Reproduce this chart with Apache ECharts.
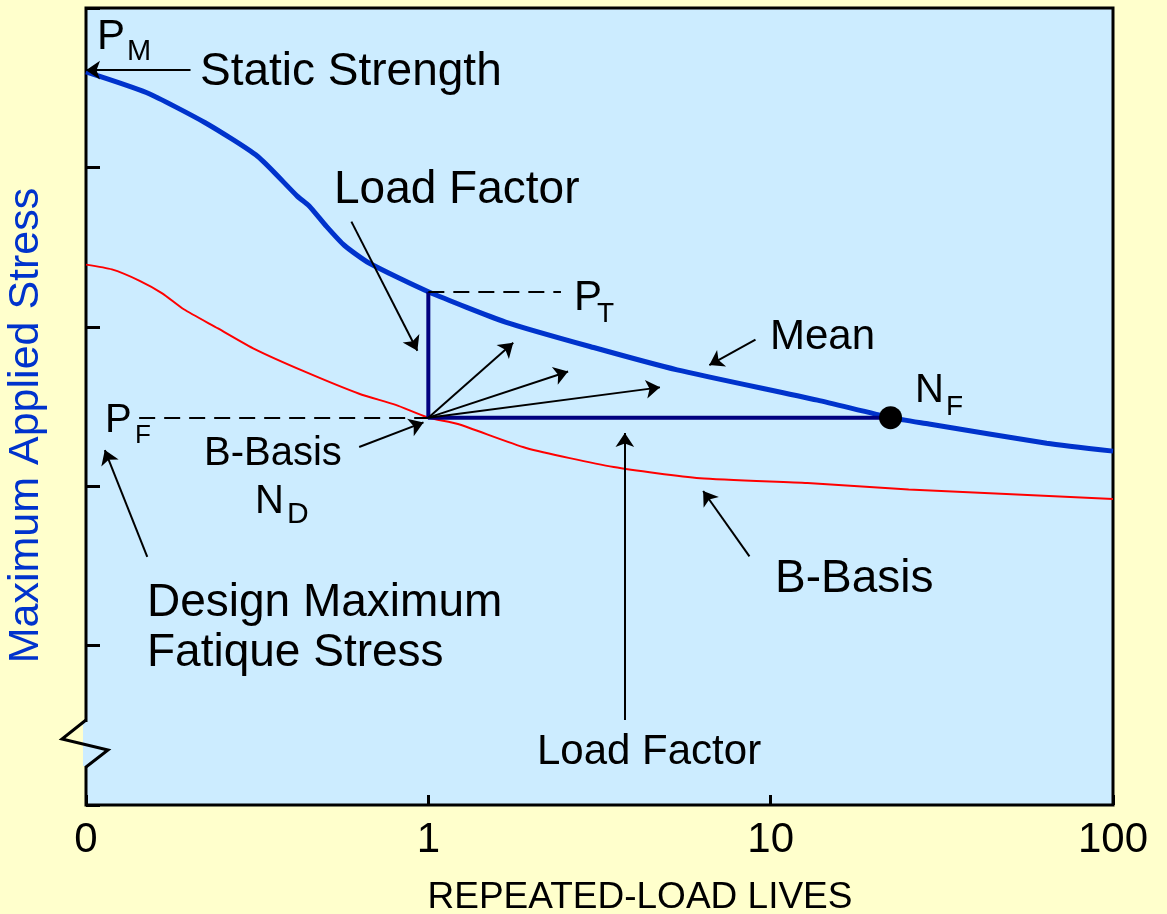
<!DOCTYPE html>
<html>
<head>
<meta charset="utf-8">
<title>Repeated-load lives</title>
<script src="https://cdn.jsdelivr.net/npm/echarts@6/dist/echarts.min.js"></script>
<style>
  html, body { margin: 0; padding: 0; background: #FFFFCC; }
  #chart { width: 1167px; height: 914px; }
</style>
</head>
<body>
<div id="chart"></div>
<script>
// x tick labels (log axis: 0.1, 1, 10, 100)
const xTickLabels = ['0', '1', '10', '100'];

// mean S-N curve
const meanLives = [0.1, 0.15, 0.223, 0.317, 0.414, 0.448, 0.504, 0.569, 0.671, 1, 1.68, 3.04, 5.33, 13.7, 22.4, 29, 64, 100];
const meanStress = [4.60, 4.47, 4.28, 4.07, 3.82, 3.76, 3.63, 3.51, 3.40, 3.22, 3.03, 2.87, 2.73, 2.54, 2.43, 2.39, 2.27, 2.22];

// B-basis curve
const bLives = [0.1, 0.119, 0.143, 0.167, 0.193, 0.243, 0.311, 0.434, 0.628, 0.803, 1, 1.22, 1.93, 3.48, 6.22, 12.8, 25.3, 100];
const bStress = [3.39, 3.36, 3.29, 3.21, 3.11, 2.99, 2.86, 2.72, 2.58, 2.51, 2.43, 2.39, 2.24, 2.12, 2.05, 2.02, 1.98, 1.92];

// design point and test point
const designLife = 1;      // N_D
const designStress = 2.43; // P_F
const testStress = 3.22;   // P_T
const failLife = 22.4;     // N_F

// annotation arrows [from, to]
const arrows = [
  [[0.202, 4.61], [0.1, 4.61]],     // static strength
  [[0.596, 3.66], [0.929, 2.85]],   // load factor (top)
  [[1, 2.43], [1.77, 2.90]],
  [[1, 2.43], [2.56, 2.72]],
  [[1, 2.43], [4.75, 2.62]],
  [[0.628, 2.246], [0.968, 2.40]],  // B-basis N_D
  [[0.151, 1.556], [0.1135, 2.227]],// design max fatigue stress
  [[3.75, 0.533], [3.75, 2.334]],   // load factor (bottom)
  [[9.03, 2.92], [6.62, 2.76]],     // mean
  [[8.67, 1.56], [6.35, 1.97]]      // B-basis
];
const dashes = [
  [[0.143, designStress], [designLife, designStress]],
  [[designLife, testStress], [2.44, testStress]]
];

const FONT = '"Liberation Sans", Arial, sans-serif';
function label(text, x, y, size, color) {
  return {
    type: 'text', x: x, y: y, z: 100,
    style: { text: text, font: size + 'px ' + FONT, fill: color || '#000', align: 'left', verticalAlign: 'middle' }
  };
}

const chart = echarts.init(document.getElementById('chart'));

const option = {
  animation: false,
  backgroundColor: '#FFFFCC',
  grid: {
    left: 86, right: 54, top: 8, bottom: 109,
    outerBoundsMode: 'none', containLabel: false,
    show: true, backgroundColor: '#CCECFF', borderColor: '#000', borderWidth: 3
  },
  xAxis: {
    type: 'log', logBase: 10, min: 0.1, max: 100,
    name: 'REPEATED-LOAD LIVES', nameLocation: 'middle', nameGap: 74,
    nameTextStyle: { color: '#000', fontSize: 37, fontFamily: FONT, padding: [0, 0, 0, 81] },
    axisLine: { show: false },
    splitLine: { show: false },
    axisTick: { inside: true, length: 10, lineStyle: { color: '#000', width: 3 } },
    axisLabel: {
      color: '#000', fontSize: 42, fontFamily: FONT, margin: 14,
      formatter: function (v) { return xTickLabels[Math.round(Math.log10(v)) + 1]; }
    }
  },
  yAxis: {
    type: 'value', min: 0, max: 5, interval: 1,
    name: 'Maximum Applied Stress', nameLocation: 'middle', nameGap: 38,
    nameTextStyle: { color: '#0033CC', fontSize: 43, fontFamily: FONT, padding: [0, 38, 0, 0] },
    axisLine: { show: false },
    splitLine: { show: false },
    axisLabel: { show: false },
    axisTick: { inside: true, length: 14, lineStyle: { color: '#000', width: 3 } }
  },
  series: [
    {
      name: 'B-Basis', type: 'line', showSymbol: false, smooth: 0.2,
      data: bLives.map((n, i) => [n, bStress[i]]),
      lineStyle: { color: '#FF0000', width: 2 }, z: 2
    },
    {
      name: 'Mean', type: 'line', showSymbol: false, smooth: 0.2,
      data: meanLives.map((n, i) => [n, meanStress[i]]),
      lineStyle: { color: '#0033CC', width: 5 }, z: 3
    },
    {
      name: 'Load Factor', type: 'line', showSymbol: false,
      data: [[designLife, testStress], [designLife, designStress], [failLife, designStress]],
      lineStyle: { color: '#000080', width: 4 }, z: 4
    },
    {
      type: 'lines', coordinateSystem: 'cartesian2d',
      data: dashes.map(c => ({ coords: c })),
      lineStyle: { color: '#000', width: 2, type: [16, 9], opacity: 1 }, z: 5
    },
    {
      type: 'lines', coordinateSystem: 'cartesian2d',
      symbol: ['none', 'arrow'], symbolSize: 14,
      data: arrows.map(c => ({ coords: c })),
      lineStyle: { color: '#000', width: 2, opacity: 1 }, z: 6
    },
    {
      type: 'scatter', symbol: 'circle', symbolSize: 23,
      data: [[failLife, designStress]],
      itemStyle: { color: '#000', opacity: 1 }, z: 7
    }
  ],
  graphic: [
    // axis break
    { type: 'rect', z: 90, shape: { x: 83, y: 722, width: 6, height: 44 }, style: { fill: '#CCECFF' } },
    { type: 'polyline', z: 91, shape: { points: [[86, 720], [62, 739], [108, 750], [86, 767]] }, style: { stroke: '#000', lineWidth: 3, fill: null } },

    label('P', 97, 37, 42), label('M', 127, 52, 29),
    label('Static Strength', 200, 72, 46),
    label('Load Factor', 334, 190, 46),
    label('P', 574, 298, 42), label('T', 597, 314, 28),
    label('Mean', 770, 337, 42),
    label('N', 915, 391, 40), label('F', 946, 407, 28),
    label('P', 105, 421, 40), label('F', 135, 436, 26),
    label('B-Basis', 204, 454, 40),
    label('N', 255, 502, 40), label('D', 287, 515, 30),
    label('Design Maximum', 147, 603, 46),
    label('Fatique Stress', 147, 653, 46),
    label('B-Basis', 775, 579, 46),
    label('Load Factor', 537, 752, 42)
  ]
};

chart.setOption(option);
</script>
</body>
</html>
